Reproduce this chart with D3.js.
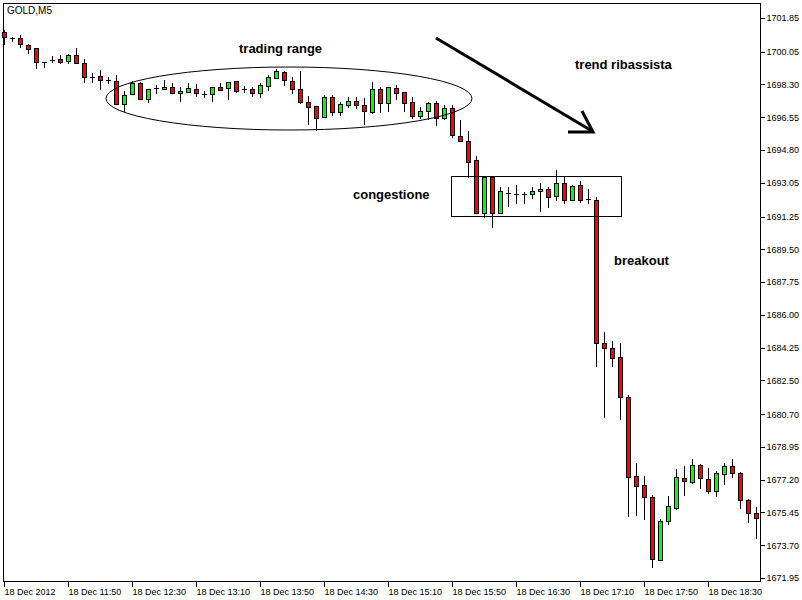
<!DOCTYPE html>
<html>
<head>
<meta charset="utf-8">
<script src="https://cdn.jsdelivr.net/npm/d3@7"></script>
<style>
  body { margin: 0; background: #fff; }
  svg { display: block; }
  .axis text { font-family: "Liberation Sans", Arial, sans-serif; font-size: 9px; fill: #000; }
  .axis line { stroke: #000; shape-rendering: crispEdges; }
  .candle line, .candle rect { shape-rendering: crispEdges; }
  .note { font-family: "Liberation Sans", Arial, sans-serif; font-size: 13px; font-weight: bold; fill: #000; }
</style>
</head>
<body>
<svg id="chart"></svg>
<script>
// GOLD M5, 18 Dec 2012, 11:10 .. 19:00 (one candle every 5 minutes)
var opens = [1701.12,1700.77,1700.77,1700.41,1700.23,1699.52,1699.61,1699.64,1699.57,1699.86,
  1699.43,1698.68,1698.75,1698.54,1698.50,1697.24,1697.78,1698.36,1697.54,1698.10,
  1698.04,1698.15,1697.86,1697.92,1698.04,1697.79,1697.78,1698.15,1698.10,1698.49,
  1698.06,1698.04,1697.83,1698.22,1698.63,1698.95,1698.49,1698.04,1697.38,1697.15,
  1696.55,1697.62,1696.82,1697.19,1697.42,1697.20,1696.85,1698.04,1697.33,1698.10,
  1697.88,1697.35,1696.62,1696.88,1697.33,1696.49,1697.03,1695.55,1695.30,1694.27,
  1691.45,1693.38,1691.42,1692.52,1692.44,1692.44,1692.44,1692.61,1692.70,1692.35,
  1693.02,1692.13,1692.93,1692.16,1692.13,1684.48,1684.21,1683.73,1681.60,1677.40,
  1676.92,1676.26,1672.91,1675.00,1675.67,1677.27,1677.09,1677.98,1677.22,1676.61,
  1677.50,1677.93,1677.57,1676.12,1675.41];
var highs = [1701.21,1700.85,1700.94,1700.46,1700.23,1699.52,1699.82,1699.86,1699.93,1700.23,
  1699.64,1698.93,1699.07,1698.72,1698.81,1697.97,1698.50,1698.45,1698.04,1698.27,
  1698.54,1698.36,1698.15,1698.40,1698.33,1697.97,1698.15,1698.36,1698.42,1698.49,
  1698.22,1698.18,1698.36,1698.81,1699.13,1699.04,1698.72,1699.02,1697.69,1697.15,
  1697.74,1697.74,1697.38,1697.65,1697.65,1697.56,1698.42,1698.18,1698.15,1698.27,
  1697.88,1697.65,1697.11,1697.38,1697.42,1697.20,1697.20,1696.38,1695.82,1694.48,
  1693.38,1693.38,1692.81,1692.81,1692.93,1692.58,1692.81,1693.06,1692.81,1693.73,
  1693.34,1692.93,1693.13,1692.70,1692.28,1685.07,1684.61,1684.48,1681.72,1678.11,
  1677.40,1676.38,1675.10,1676.33,1677.77,1677.93,1678.30,1678.04,1677.81,1677.66,
  1678.11,1678.29,1677.63,1676.17,1675.73];
var lows = [1700.46,1700.64,1700.32,1699.97,1699.20,1699.25,1699.50,1699.46,1699.43,1699.43,
  1698.45,1698.45,1698.04,1698.36,1697.24,1696.90,1697.78,1697.54,1697.38,1697.86,
  1698.04,1697.86,1697.43,1697.92,1697.69,1697.65,1697.43,1698.01,1697.51,1697.92,
  1697.92,1697.69,1697.62,1698.01,1698.63,1698.27,1697.83,1697.30,1696.19,1695.87,
  1696.55,1696.67,1696.67,1697.08,1697.03,1696.19,1696.76,1696.85,1696.90,1697.51,
  1696.90,1696.49,1696.49,1696.44,1696.14,1696.44,1695.51,1695.26,1693.34,1691.42,
  1691.24,1690.67,1691.42,1691.81,1691.96,1691.96,1692.22,1691.56,1691.78,1692.13,
  1691.99,1692.13,1692.05,1691.99,1683.29,1680.56,1683.29,1680.42,1675.28,1675.32,
  1675.09,1672.52,1672.91,1674.82,1675.62,1676.38,1677.04,1676.77,1676.51,1676.35,
  1676.97,1677.33,1675.70,1674.96,1674.07];
var closes = [1700.82,1700.77,1700.45,1700.18,1699.52,1699.52,1699.61,1699.52,1699.86,1699.46,
  1698.72,1698.68,1698.52,1698.54,1697.24,1697.74,1698.36,1697.54,1698.04,1698.10,
  1698.15,1697.86,1697.97,1698.10,1697.83,1697.79,1698.15,1698.01,1698.42,1697.95,
  1698.06,1697.86,1698.27,1698.68,1699.02,1698.54,1698.04,1697.38,1697.11,1696.49,
  1697.62,1696.82,1697.26,1697.42,1697.19,1696.90,1698.04,1697.30,1698.15,1697.83,
  1697.30,1696.62,1696.87,1697.33,1696.53,1697.03,1695.60,1695.26,1694.18,1691.42,
  1693.38,1691.45,1692.61,1692.52,1692.44,1692.44,1692.61,1692.70,1692.31,1693.02,
  1692.13,1692.88,1692.11,1692.16,1684.48,1684.21,1683.68,1681.60,1677.36,1676.88,
  1676.29,1672.95,1675.00,1675.80,1677.33,1677.15,1677.98,1677.27,1676.61,1677.57,
  1677.93,1677.54,1676.12,1675.41,1675.17];

var priceTicks = [1701.85,1700.05,1698.30,1696.55,1694.80,1693.05,1691.25,1689.50,1687.75,
  1686.00,1684.25,1682.50,1680.70,1678.95,1677.20,1675.45,1673.70,1671.95];
var timeTickIdx = [0,8,16,24,32,40,48,56,64,72,80,88];
var timeTickLabels = ["18 Dec 2012","18 Dec 11:50","18 Dec 12:30","18 Dec 13:10","18 Dec 13:50",
  "18 Dec 14:30","18 Dec 15:10","18 Dec 15:50","18 Dec 16:30","18 Dec 17:10","18 Dec 17:50","18 Dec 18:30"];

var width = 802, height = 600;
var plot = { left: 3.5, top: 3.5, right: 760.5, bottom: 581.5 };

var candles = opens.map(function(o, i) {
  return { i: i, o: o, h: highs[i], l: lows[i], c: closes[i] };
});

var xScale = d3.scaleLinear().domain([0, candles.length - 1]).range([4.5, 4.5 + 8 * (candles.length - 1)]);
var yScale = d3.scaleLinear().domain([1671.95, 1701.85]).range([578, 18]);

var svg = d3.select("#chart").attr("width", width).attr("height", height);

/*frame*/
svg.append("rect")
  .attr("x", plot.left).attr("y", plot.top)
  .attr("width", plot.right - plot.left).attr("height", plot.bottom - plot.top)
  .attr("fill", "none").attr("stroke", "#000");

svg.append("text")
  .attr("x", 7).attr("y", 14)
  .style("font-family", "Liberation Sans, Arial, sans-serif")
  .style("font-size", "10px")
  .attr("fill", "#000")
  .text("GOLD,M5");

/*axes*/
var yAxis = d3.axisRight(yScale).tickValues(priceTicks).tickSize(4).tickPadding(2)
  .tickFormat(d3.format(".2f"));
var gy = svg.append("g").attr("class", "axis").attr("transform", "translate(" + plot.right + ",0)").call(yAxis);
gy.select(".domain").remove();

var tickMap = {};
timeTickIdx.forEach(function(d, k) { tickMap[d] = timeTickLabels[k]; });
var xAxis = d3.axisBottom(d3.scaleLinear().domain(xScale.domain()).range([3.5, 3.5 + 8 * (candles.length - 1)]))
  .tickValues(timeTickIdx).tickSize(5).tickPadding(2)
  .tickFormat(function(d) { return tickMap[d]; });
var gx = svg.append("g").attr("class", "axis").attr("transform", "translate(0," + plot.bottom + ")").call(xAxis);
gx.select(".domain").remove();
gx.selectAll("text").attr("text-anchor", "start").attr("dx", "0.5").attr("y", 7);

/*candles*/
var g = svg.append("g").attr("class", "candles");
var c = g.selectAll("g.candle").data(candles).enter().append("g").attr("class", "candle");

c.append("line")
  .attr("x1", function(d) { return xScale(d.i); })
  .attr("x2", function(d) { return xScale(d.i); })
  .attr("y1", function(d) { return Math.round(yScale(d.h)); })
  .attr("y2", function(d) { return Math.round(yScale(d.l)) + 1; })
  .attr("stroke", "#000");

c.each(function(d) {
  var el = d3.select(this);
  var yTop = Math.round(yScale(Math.max(d.o, d.c))) + 0.5;
  var yBot = Math.round(yScale(Math.min(d.o, d.c))) + 0.5;
  var x = xScale(d.i);
  if (yBot - yTop < 1) {
    el.append("line")
      .attr("x1", x - 2.5).attr("x2", x + 2.5)
      .attr("y1", yTop).attr("y2", yTop)
      .attr("stroke", "#000");
  } else {
    el.append("rect")
      .attr("x", x - 2).attr("width", 4)
      .attr("y", yTop).attr("height", yBot - yTop)
      .attr("fill", d.c >= d.o ? "#00ff00" : "#ff0000")
      .attr("stroke", "#000");
  }
});

/*annotations*/
svg.append("ellipse")
  .attr("cx", 289).attr("cy", 98.5).attr("rx", 183).attr("ry", 31.5)
  .attr("fill", "none").attr("stroke", "#000");

svg.append("rect")
  .attr("x", 451.5).attr("y", 176.5).attr("width", 170).attr("height", 40)
  .attr("fill", "none").attr("stroke", "#000");

svg.append("line")
  .attr("x1", 436).attr("y1", 38).attr("x2", 592).attr("y2", 131)
  .attr("stroke", "#000").attr("stroke-width", 3);
svg.append("path")
  .attr("d", "M568,132 L593,132 L582,111")
  .attr("fill", "none").attr("stroke", "#000").attr("stroke-width", 3);

svg.append("text").attr("class", "note").attr("x", 239).attr("y", 53).text("trading range");
svg.append("text").attr("class", "note").attr("x", 575).attr("y", 69).text("trend ribassista");
svg.append("text").attr("class", "note").attr("x", 353).attr("y", 199).text("congestione");
svg.append("text").attr("class", "note").attr("x", 614).attr("y", 265).text("breakout");
</script>
</body>
</html>
